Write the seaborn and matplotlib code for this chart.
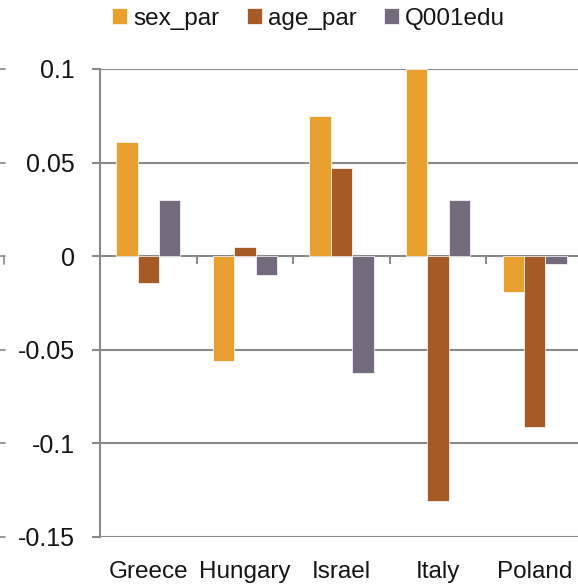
import numpy as np
import pandas as pd
import matplotlib
matplotlib.use("Agg")
import matplotlib.pyplot as plt
from matplotlib.ticker import FuncFormatter
import matplotlib.transforms as mtransforms
import seaborn as sns

# Data
countries = ["Greece", "Hungary", "Israel", "Italy", "Poland"]
series_names = ["sex_par", "age_par", "Q001edu"]
sex_par = [0.061, -0.056, 0.075, 0.100, -0.019]
age_par = [-0.0145, 0.0048, 0.047, -0.131, -0.091]
q001edu = [0.0302, -0.0099, -0.0623, 0.0300, -0.0044]
y_ticks = [-0.15, -0.1, -0.05, 0, 0.05, 0.1]

colors = ["#E9A02E", "#A65A25", "#736A7C"]
grid_gray = "#8A8A8A"
text_color = "#151515"

df = pd.DataFrame({
    "country": countries * 3,
    "series": np.repeat(series_names, len(countries)),
    "value": sex_par + age_par + q001edu,
})

sns.set_style("white")
plt.rcParams["font.family"] = ["Liberation Sans", "DejaVu Sans"]

fig = plt.figure(figsize=(5.78, 5.87), dpi=100)
ax = fig.add_axes([0.1730, 0.0852, 0.8357, 0.7973])

sns.barplot(data=df, x="country", y="value", hue="series",
            order=countries, hue_order=series_names,
            palette=colors, width=2/3, saturation=1,
            edgecolor="white", linewidth=0.5, ax=ax)

ax.set_ylim(-0.15, 0.1)
ax.set_xlim(-0.5, len(countries) - 0.5)
ax.set_yticks(y_ticks)
ax.yaxis.set_major_formatter(FuncFormatter(lambda v, p: f"{v:g}"))
ax.set_xlabel("")
ax.set_ylabel("")

ax.set_axisbelow(True)
ax.yaxis.grid(True, color=grid_gray, linewidth=1.5)
ax.xaxis.grid(False)
for side in ["top", "right", "bottom"]:
    ax.spines[side].set_visible(False)
ax.spines["left"].set_color(grid_gray)
ax.spines["left"].set_linewidth(1.5)

ax.tick_params(axis="y", direction="out", length=6, width=1.5, color=grid_gray,
               pad=12, labelsize=18, labelcolor=text_color, left=True)
ax.tick_params(axis="x", length=0, pad=17, labelsize=17.5, labelcolor=text_color)

# category separators on the zero line
bounds = np.arange(len(countries)) + 0.5
ax.vlines(bounds, -0.004, 0, colors=grid_gray, linewidth=1.5, zorder=3)

# short tick stubs along the far-left edge
edge_tf = mtransforms.blended_transform_factory(fig.transFigure, ax.transData)
for v in y_ticks:
    ax.plot([0, 0.008], [v, v], transform=edge_tf, color=grid_gray,
            linewidth=1.2, clip_on=False)
ax.plot([0.007, 0.007], [0, -0.004], transform=edge_tf, color=grid_gray,
        linewidth=1.2, clip_on=False)

handles, labels = ax.get_legend_handles_labels()
ax.get_legend().remove()
fig.legend(handles, labels, loc="center", bbox_to_anchor=(0.534, 0.968),
           ncol=3, frameon=False, fontsize=17.5, handlelength=0.6,
           handleheight=0.6, handletextpad=0.25, columnspacing=1.15,
           borderpad=0, labelcolor=text_color)

fig.savefig("out.png", dpi=100)
